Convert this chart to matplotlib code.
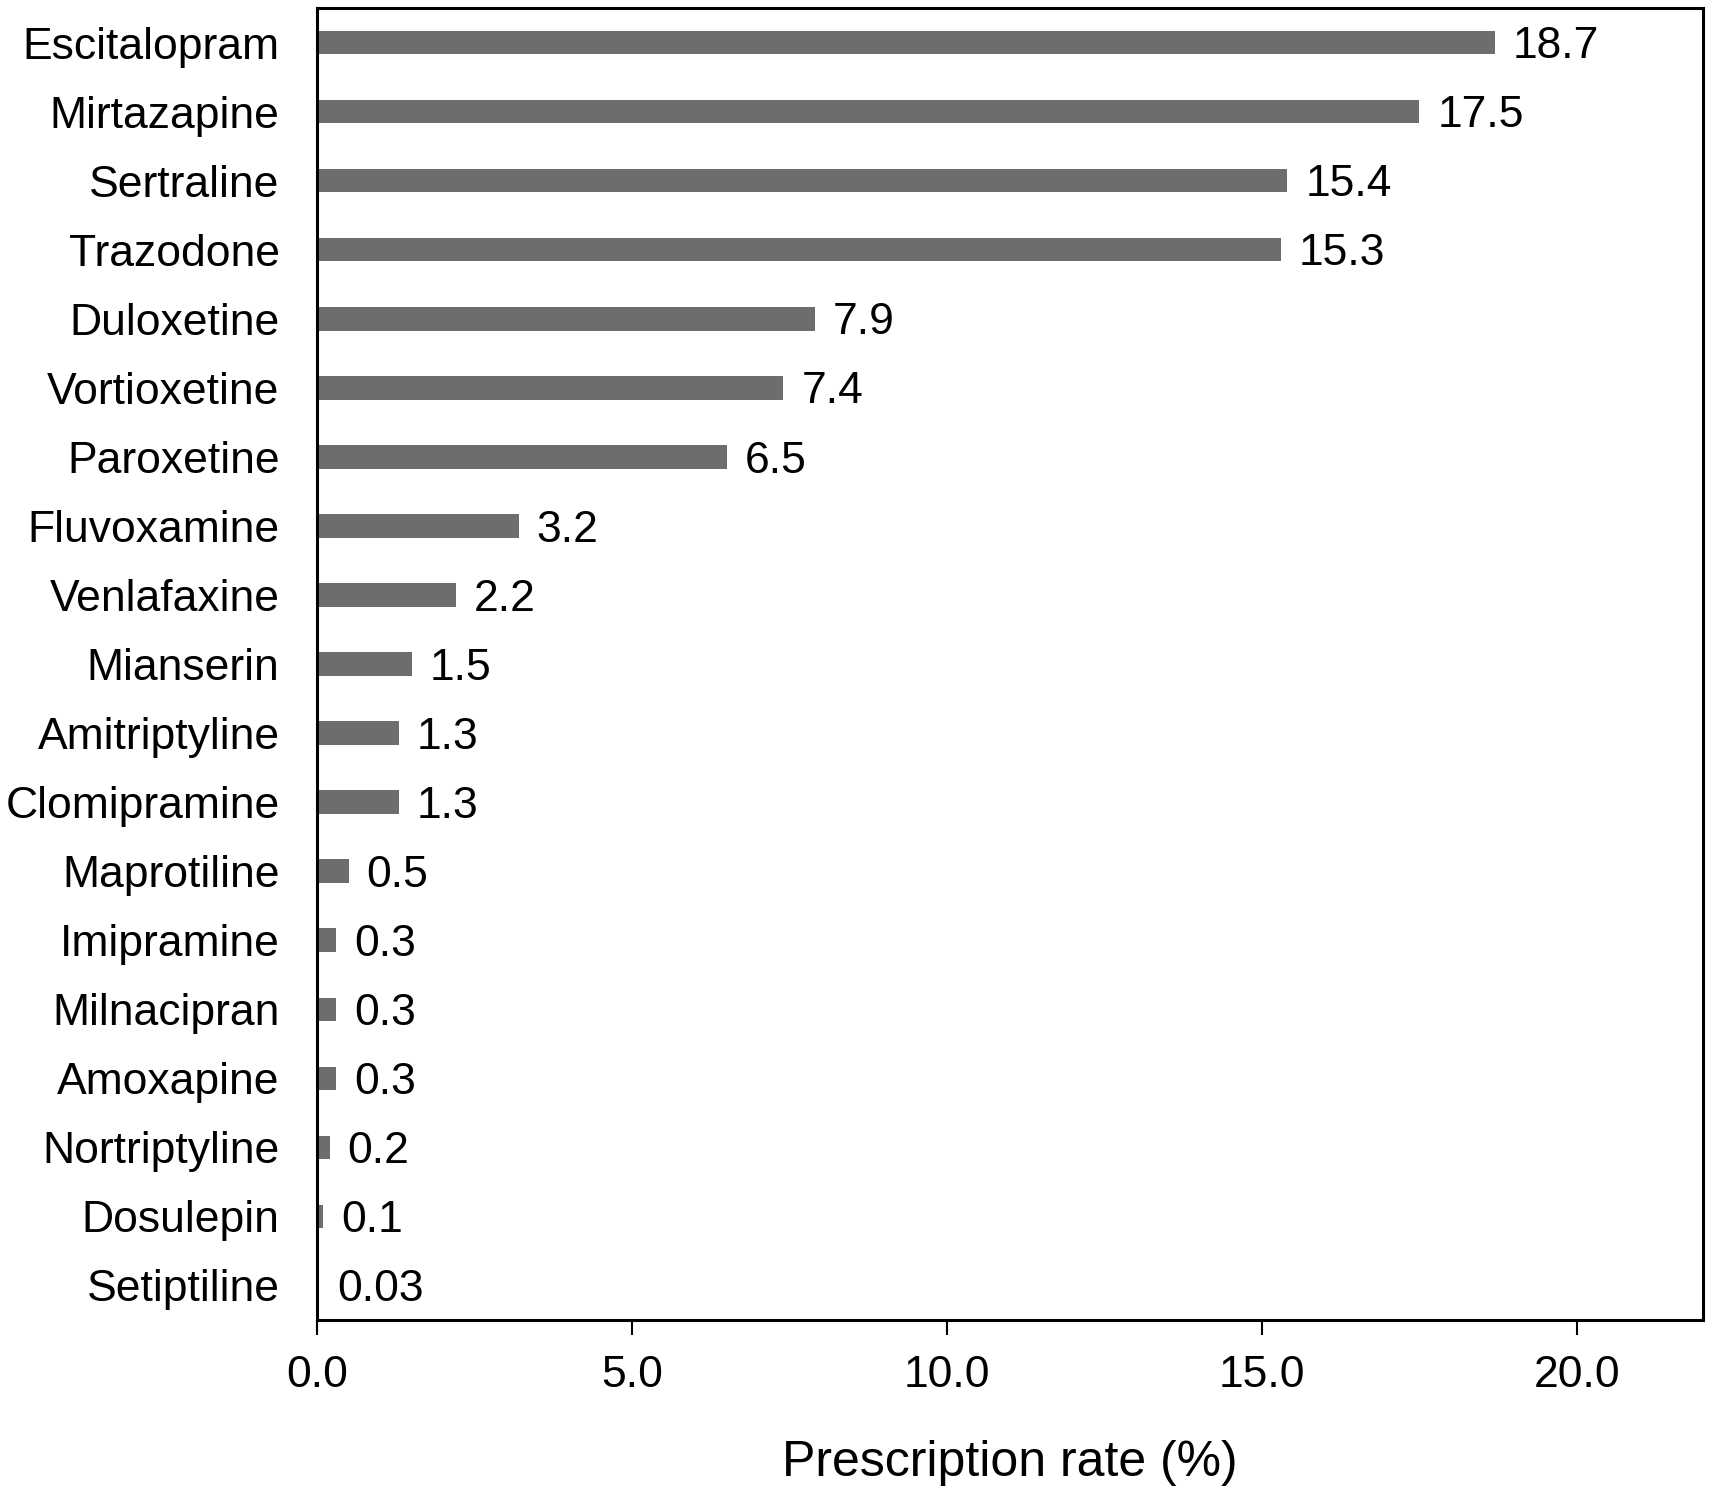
import numpy as np
import matplotlib.pyplot as plt

drugs = ["Escitalopram", "Mirtazapine", "Sertraline", "Trazodone", "Duloxetine",
         "Vortioxetine", "Paroxetine", "Fluvoxamine", "Venlafaxine", "Mianserin",
         "Amitriptyline", "Clomipramine", "Maprotiline", "Imipramine", "Milnacipran",
         "Amoxapine", "Nortriptyline", "Dosulepin", "Setiptiline"]
rates = [18.7, 17.5, 15.4, 15.3, 7.9, 7.4, 6.5, 3.2, 2.2, 1.5,
         1.3, 1.3, 0.5, 0.3, 0.3, 0.3, 0.2, 0.1, 0.03]
rate_labels = ["18.7", "17.5", "15.4", "15.3", "7.9", "7.4", "6.5", "3.2", "2.2", "1.5",
               "1.3", "1.3", "0.5", "0.3", "0.3", "0.3", "0.2", "0.1", "0.03"]
xticks = [0, 5, 10, 15, 20]

plt.rcParams['font.family'] = ['Liberation Sans', 'DejaVu Sans']

fig = plt.figure(figsize=(17.12, 14.92), dpi=100)
ax = fig.add_axes([0.1852, 0.1153, 0.8095, 0.8793])

y = np.arange(len(drugs))
ax.barh(y, rates, height=0.34, color='#6d6d6d')
for yi, r, lab in zip(y, rates, rate_labels):
    ax.annotate(lab, (r, yi), xytext=(13, -3), textcoords='offset points',
                va='center', ha='left', fontsize=32)

ax.set_ylim(len(drugs) - 0.5, -0.5)
ax.set_xlim(0, 22)
ax.set_yticks(y)
ax.set_yticklabels(drugs, fontsize=32)
ax.set_xticks(xticks)
ax.set_xticklabels([f"{t:.1f}" for t in xticks], fontsize=32)
ax.tick_params(axis='y', length=0, pad=27)
ax.tick_params(axis='x', length=11, width=1.5, pad=14, direction='out')
for s in ax.spines.values():
    s.set_linewidth(2.2)
ax.set_xlabel("Prescription rate (%)", fontsize=36, labelpad=32)

fig.savefig("out.png", dpi=100)
